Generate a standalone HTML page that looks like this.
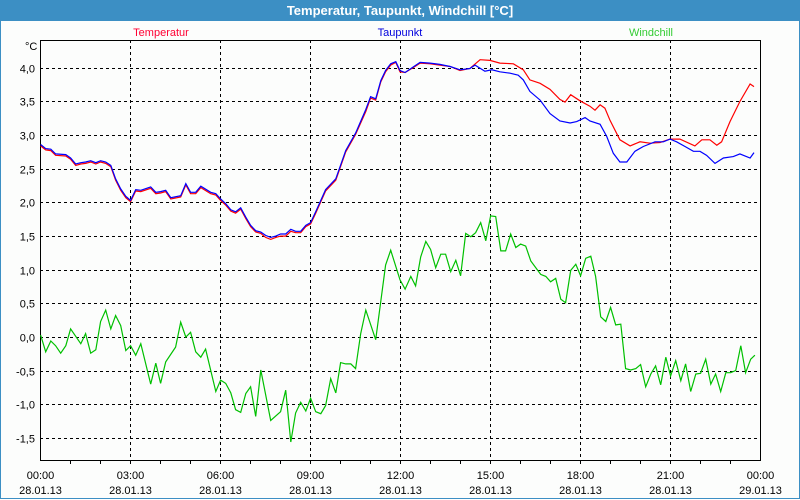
<!DOCTYPE html>
<html><head><meta charset="utf-8"><style>
body{margin:0;width:800px;height:500px;overflow:hidden;background:#fff;font-family:"Liberation Sans",sans-serif}
#win{position:absolute;left:0;top:0;width:798px;height:498px;border:1px solid #3c8fc4;border-top:none;background:#fcfdfc}
#title{position:absolute;left:0;top:0;width:800px;height:21px;background:#3c8fc4;color:#fff;font-weight:bold;font-size:13px;text-align:center;line-height:21px}
</style></head><body>
<div id="win"></div>
<div id="title">Temperatur, Taupunkt, Windchill [°C]</div>
<svg id="c" width="800" height="500" style="position:absolute;left:0;top:0"></svg>
<script>
const yTicks=[4.0,3.5,3.0,2.5,2.0,1.5,1.0,0.5,0.0,-0.5,-1.0,-1.5];
const xTickHours=[0,3,6,9,12,15,18,21,24];
const xTickTimes=["00:00","03:00","06:00","09:00","12:00","15:00","18:00","21:00","00:00"];
const xTickDates=["28.01.13","28.01.13","28.01.13","28.01.13","28.01.13","28.01.13","28.01.13","28.01.13","29.01.13"];
const tempHours=[0.02,0.19,0.36,0.52,0.86,1.02,1.19,1.36,1.52,1.69,1.86,2.02,2.19,2.36,2.52,2.69,2.86,3.02,3.19,3.36,3.69,3.86,4.02,4.19,4.36,4.69,4.86,5.02,5.19,5.36,5.69,5.86,6.02,6.19,6.36,6.52,6.69,6.86,7.02,7.19,7.36,7.52,7.69,7.86,8.02,8.19,8.36,8.52,8.69,8.86,9.02,9.19,9.36,9.52,9.86,10.19,10.52,10.86,11.02,11.19,11.36,11.52,11.69,11.86,12.0,12.17,12.5,12.67,13.0,13.33,13.67,14.0,14.33,14.67,15.0,15.33,15.78,16.11,16.33,16.67,17.0,17.33,17.5,17.69,18.0,18.33,18.5,18.67,18.83,19.0,19.33,19.67,20.0,20.33,20.67,21.0,21.33,21.83,22.06,22.33,22.56,22.72,23.0,23.33,23.67,23.8];
const tempValues=[2.84,2.78,2.77,2.70,2.69,2.64,2.55,2.57,2.58,2.60,2.57,2.60,2.58,2.53,2.33,2.18,2.07,2.01,2.17,2.16,2.21,2.13,2.14,2.16,2.05,2.08,2.26,2.13,2.13,2.22,2.13,2.11,2.03,1.96,1.87,1.84,1.90,1.76,1.64,1.56,1.54,1.48,1.45,1.48,1.50,1.50,1.57,1.55,1.55,1.64,1.68,1.84,2.01,2.17,2.33,2.75,3.01,3.35,3.55,3.52,3.79,3.94,4.04,4.08,3.94,3.93,4.02,4.07,4.06,4.04,4.02,3.96,3.99,4.12,4.11,4.07,4.06,3.97,3.82,3.77,3.68,3.53,3.49,3.60,3.51,3.43,3.37,3.45,3.40,3.22,2.93,2.84,2.90,2.88,2.89,2.94,2.94,2.84,2.93,2.93,2.85,2.90,3.20,3.50,3.76,3.72];
const dewHours=[0.02,0.19,0.36,0.52,0.86,1.02,1.19,1.36,1.52,1.69,1.86,2.02,2.19,2.36,2.52,2.69,2.86,3.02,3.19,3.36,3.69,3.86,4.02,4.19,4.36,4.69,4.86,5.02,5.19,5.36,5.69,5.86,6.02,6.19,6.36,6.52,6.69,6.86,7.02,7.19,7.36,7.52,7.69,7.86,8.02,8.19,8.36,8.52,8.69,8.86,9.02,9.19,9.36,9.52,9.86,10.19,10.52,10.86,11.02,11.19,11.36,11.52,11.69,11.86,12.0,12.17,12.5,12.67,13.0,13.33,13.67,14.0,14.33,14.5,14.83,15.06,15.33,15.67,15.94,16.11,16.33,16.67,17.0,17.33,17.67,17.89,18.17,18.33,18.67,18.89,19.11,19.33,19.56,19.83,20.11,20.5,20.78,21.0,21.22,21.5,21.78,22.0,22.22,22.5,22.78,23.11,23.33,23.67,23.8];
const dewValues=[2.86,2.80,2.79,2.72,2.71,2.66,2.57,2.59,2.60,2.62,2.59,2.62,2.60,2.55,2.35,2.20,2.09,2.03,2.19,2.18,2.23,2.15,2.16,2.18,2.07,2.10,2.28,2.15,2.15,2.24,2.15,2.13,2.05,1.98,1.89,1.86,1.92,1.78,1.66,1.58,1.56,1.51,1.48,1.50,1.53,1.53,1.60,1.57,1.57,1.66,1.70,1.86,2.03,2.19,2.35,2.77,3.03,3.38,3.57,3.54,3.81,3.96,4.06,4.09,3.96,3.93,4.03,4.08,4.07,4.05,4.02,3.97,3.99,4.04,3.95,3.97,3.94,3.92,3.89,3.82,3.65,3.52,3.32,3.21,3.18,3.20,3.26,3.21,3.16,2.98,2.73,2.60,2.60,2.76,2.83,2.90,2.90,2.94,2.90,2.83,2.76,2.76,2.70,2.58,2.66,2.68,2.72,2.66,2.74];
const windHours=[0.02,0.19,0.36,0.52,0.69,0.86,1.02,1.36,1.52,1.69,1.86,2.02,2.19,2.36,2.52,2.69,2.86,3.02,3.19,3.36,3.69,3.86,4.02,4.19,4.52,4.69,4.86,5.02,5.19,5.36,5.52,5.86,6.02,6.19,6.36,6.52,6.69,6.86,7.02,7.19,7.36,7.69,8.02,8.19,8.36,8.52,8.69,8.86,9.02,9.19,9.36,9.52,9.69,9.86,10.02,10.19,10.36,10.52,10.69,10.86,11.19,11.52,11.69,12.0,12.17,12.36,12.52,12.69,12.86,13.02,13.19,13.36,13.52,13.69,13.86,14.02,14.19,14.36,14.52,14.69,14.86,15.02,15.19,15.36,15.52,15.69,15.86,16.02,16.19,16.36,16.69,16.86,17.02,17.19,17.36,17.52,17.69,17.86,18.02,18.19,18.36,18.52,18.69,18.86,19.02,19.19,19.36,19.52,19.69,19.86,20.02,20.19,20.36,20.52,20.69,20.86,21.02,21.19,21.36,21.52,21.69,21.86,22.02,22.19,22.36,22.52,22.69,22.86,23.02,23.19,23.36,23.52,23.69,23.83];
const windValues=[0.03,-0.22,-0.06,-0.13,-0.24,-0.13,0.12,-0.10,0.05,-0.24,-0.19,0.23,0.40,0.12,0.32,0.17,-0.20,-0.13,-0.27,-0.10,-0.70,-0.39,-0.69,-0.37,-0.15,0.22,0.00,0.07,-0.22,-0.30,-0.18,-0.81,-0.64,-0.69,-0.83,-1.08,-1.12,-0.84,-0.74,-1.18,-0.49,-1.24,-1.11,-0.79,-1.56,-1.13,-0.97,-1.10,-0.91,-1.11,-1.14,-1.02,-0.62,-0.83,-0.38,-0.40,-0.40,-0.47,0.05,0.40,-0.04,1.07,1.29,0.85,0.71,0.90,0.76,1.19,1.42,1.30,1.03,1.23,1.23,0.97,1.14,0.91,1.54,1.49,1.55,1.70,1.43,1.80,1.79,1.28,1.28,1.53,1.33,1.38,1.35,1.13,0.93,0.90,0.82,0.87,0.56,0.51,0.99,1.08,0.91,1.17,1.20,0.90,0.30,0.23,0.44,0.18,0.19,-0.47,-0.49,-0.47,-0.41,-0.74,-0.55,-0.43,-0.71,-0.30,-0.58,-0.35,-0.65,-0.40,-0.81,-0.55,-0.54,-0.33,-0.70,-0.55,-0.81,-0.53,-0.53,-0.50,-0.13,-0.53,-0.33,-0.27];

const L=40,R=760,T=40,B=460;
const xS=h=>L+(R-L)*h/24;
const yS=v=>337-v*67.3;
const svg=document.getElementById('c');
const NS='http://www.w3.org/2000/svg';
function mk(tag,attrs,parent){const e=document.createElementNS(NS,tag);for(const k in attrs)e.setAttribute(k,attrs[k]);(parent||svg).appendChild(e);return e;}
yTicks.forEach((v,i)=>{
  const y=Math.round(yS(v))+0.5;
  const g=mk('line',{x1:L,x2:R,y1:y,y2:y,stroke:'#000','stroke-dasharray':'3,3','stroke-width':1});
  
  
  const t=mk('text',{x:35,y:y+4,'text-anchor':'end','font-size':11,fill:'#000'});
  t.textContent=v.toFixed(1).replace('.',',');
  
  
});
for(let h=1;h<24;h++){
  const x=Math.round(xS(h))+0.5;
  const tk=mk('line',{x1:x,x2:x,y1:B,y2:B+4,stroke:'#000'});
  
  
}
xTickHours.forEach((h,i)=>{
  const x=Math.round(xS(h))+0.5;
  if(h>0&&h<24){const g=mk('line',{x1:x,x2:x,y1:T,y2:B,stroke:'#000','stroke-dasharray':'3,3'});
  
  }
  const t1=mk('text',{x:x,y:479,'text-anchor':'middle','font-size':11});
  t1.textContent=xTickTimes[i];
  
  
  const t2=mk('text',{x:x,y:494,'text-anchor':'middle','font-size':11});
  t2.textContent=xTickDates[i];
  
  
});
const frame=mk('rect',{x:L+0.5,y:T+0.5,width:R-L,height:B-T,fill:'none',stroke:'#000'});


function series(hs,vs,color,name){
  const p=mk('polyline',{points:hs.map((h,i)=>xS(h).toFixed(1)+','+yS(vs[i]).toFixed(1)).join(' '),fill:'none',stroke:color,'stroke-width':1.2});
  
  
}
series(windHours,windValues,'#00c000','windchill-line');
series(tempHours,tempValues,'#ff0000','temperatur-line');
series(dewHours,dewValues,'#0000ff','taupunkt-line');
[['Temperatur',161,'#ff0033','legend-temperatur'],['Taupunkt',400,'#0000dd','legend-taupunkt'],['Windchill',651,'#33cc33','legend-windchill']].forEach(a=>{
  const t=mk('text',{x:a[1],y:36,'text-anchor':'middle','font-size':11,fill:a[2]});
  t.textContent=a[0];
  
  
});
const u=mk('text',{x:25,y:50,'font-size':11});
u.textContent='°C';


</script>
</body></html>
